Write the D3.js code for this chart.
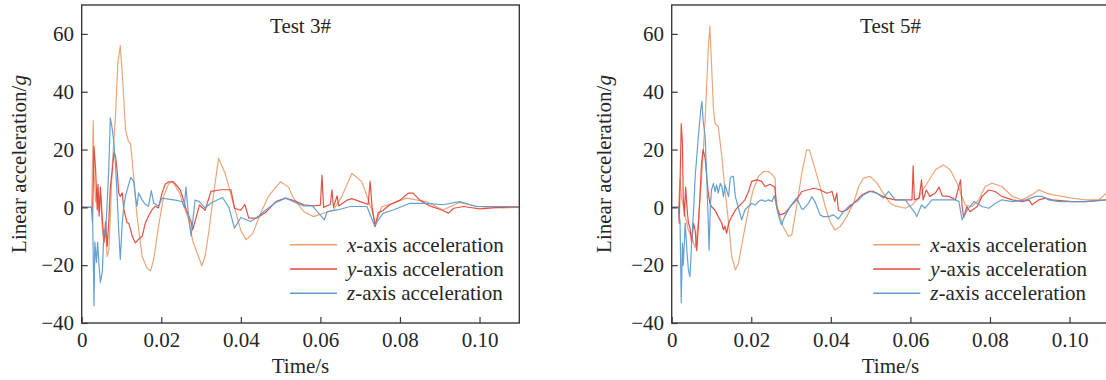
<!DOCTYPE html>
<html>
<head>
<meta charset="utf-8">
<script src="https://cdn.jsdelivr.net/npm/d3@7"></script>
<style>
  html, body { margin: 0; padding: 0; background: #fff; }
  svg { display: block; }
  text { font-family: "Liberation Serif", "Times New Roman", serif; fill: #262626; }
</style>
</head>
<body>
<svg id="chart" width="1106" height="380"></svg>
<script>
// ---- data: acceleration traces [time (s), acceleration (g)] ----
const test3X = [[0,0],[0.0025,0],[0.0029,30],[0.0031,12],[0.0035,2],[0.0039,7],[0.0043,-1.5],[0.0047,5],[0.0052,-8],[0.0056,-12],[0.006,-8],[0.0064,-17],[0.0068,-15],[0.0072,-3],[0.0077,15],[0.0085,32],[0.0091,50],[0.0097,56],[0.0103,44],[0.011,27],[0.0117,23],[0.0123,22],[0.0131,10],[0.0139,-3],[0.0152,-17],[0.0164,-21],[0.0173,-22],[0.0181,-18],[0.0193,-6.6],[0.0206,3.8],[0.0218,8],[0.0227,9],[0.0235,7.5],[0.0246,5],[0.026,-0.8],[0.0268,-4],[0.028,-12],[0.0302,-20.2],[0.031,-17],[0.032,-8],[0.033,3],[0.0344,17],[0.036,12],[0.038,2],[0.04,-8],[0.0413,-11.2],[0.043,-9],[0.045,-2],[0.047,4],[0.05,8.9],[0.052,7],[0.0533,3],[0.0558,-1.4],[0.0583,-3.2],[0.0633,-0.9],[0.0654,3.8],[0.0679,11.8],[0.0704,8.9],[0.0712,6],[0.0729,-0.9],[0.0738,-6],[0.0754,0.2],[0.0783,1.4],[0.0816,3.2],[0.0866,2],[0.0908,-0.9],[0.095,1.7],[0.0992,0.3],[0.1058,-0.2],[0.11,0]];
const test3Y = [[0,0],[0.0025,0],[0.0027,-5],[0.0031,21],[0.0035,13],[0.0039,-0.8],[0.0041,8],[0.0044,-3],[0.0047,7],[0.0052,-4],[0.0056,-12],[0.006,-5],[0.0064,-13.5],[0.0068,-5],[0.0072,7],[0.0077,13],[0.0081,18.9],[0.0085,17.7],[0.0089,13],[0.0093,5],[0.0097,3.8],[0.0102,5],[0.0106,-0.8],[0.011,-3],[0.0114,-5.4],[0.0118,-5.4],[0.0123,-7.7],[0.0127,-10],[0.0135,-12.3],[0.0143,-11],[0.0152,-10],[0.016,-5.4],[0.0168,-3],[0.0177,-0.8],[0.0185,0.4],[0.0193,-0.2],[0.0202,5],[0.021,8],[0.0218,8.8],[0.0231,8.8],[0.0239,7.5],[0.0248,6],[0.0256,2.5],[0.0263,-1],[0.0275,-5],[0.0279,-7.8],[0.0296,0.8],[0.031,-1],[0.0325,5.5],[0.035,6.1],[0.0375,6.1],[0.0384,-0.3],[0.04,-1],[0.041,1],[0.042,-3.7],[0.044,-3.7],[0.0462,-1.8],[0.0488,2],[0.0512,3.2],[0.0537,2.2],[0.0558,0.9],[0.0583,0.5],[0.06,0.8],[0.0604,11.2],[0.0608,0],[0.0625,1],[0.0629,6.1],[0.0633,0],[0.0642,4],[0.0646,0.5],[0.0667,2.5],[0.0679,3],[0.07,2],[0.072,1],[0.0725,9],[0.073,0],[0.0738,-6.6],[0.0745,-2],[0.0758,-1],[0.0775,1],[0.08,2.5],[0.0821,4.9],[0.0833,4.9],[0.085,2.5],[0.0875,0.5],[0.0905,-0.9],[0.0922,-2],[0.0935,-0.3],[0.096,0.3],[0.1,-0.5],[0.105,0],[0.11,0.2]];
const test3Z = [[0,0],[0.0027,0],[0.0031,-34],[0.0033,-12],[0.0037,-19],[0.004,-12],[0.0043,-19],[0.0047,-26],[0.0052,-22],[0.0056,-7.7],[0.006,-10],[0.0064,1.5],[0.0068,13],[0.0072,31],[0.0077,27],[0.0081,22],[0.0085,15],[0.0089,4],[0.0093,-7.7],[0.0097,-18],[0.0102,-5],[0.0106,0.4],[0.011,3.8],[0.0123,10.4],[0.0131,9],[0.0135,3.8],[0.0139,0.4],[0.0143,5],[0.0152,2.5],[0.016,1],[0.0168,0.4],[0.0175,5.8],[0.0181,1.5],[0.0193,0.4],[0.0202,3.2],[0.021,3],[0.0227,2.7],[0.0243,2.3],[0.0252,2],[0.0258,0],[0.0262,7],[0.0268,-2],[0.0275,-10],[0.0285,2.5],[0.0296,2],[0.031,-0.3],[0.0325,1.5],[0.0354,3.4],[0.037,0],[0.0384,-7.2],[0.04,-3.5],[0.0425,-4.9],[0.0445,-3],[0.0462,-1],[0.0488,1.7],[0.0512,3.2],[0.0533,2],[0.0558,0.5],[0.058,0.5],[0.061,-4.3],[0.0617,-1.5],[0.0642,-0.9],[0.0675,0.3],[0.0717,0.3],[0.0737,-6.6],[0.0742,-4.9],[0.0758,-2],[0.0783,-0.9],[0.0825,1.4],[0.0866,1.4],[0.0908,0.9],[0.095,2],[0.0992,0.3],[0.105,0.3],[0.11,0.3]];

const test5X = [[0,0],[0.0017,0],[0.0021,10],[0.0025,3],[0.003,0],[0.0034,-3],[0.0042,-8],[0.005,-10],[0.0059,-14],[0.0067,-5],[0.0075,10],[0.0084,30],[0.0092,55],[0.0096,62.6],[0.01,50],[0.0105,34],[0.0109,29],[0.0117,28],[0.0126,17.5],[0.0134,6],[0.0143,-5.5],[0.0151,-17],[0.016,-21.6],[0.0168,-19.3],[0.018,-10],[0.0193,-0.9],[0.0205,6.1],[0.0218,10.7],[0.0231,12.4],[0.0243,12.4],[0.0252,11.5],[0.026,10],[0.0262,2.6],[0.0268,-1.5],[0.028,-6.6],[0.0293,-10],[0.0302,-9.5],[0.0314,0.3],[0.0327,11.8],[0.0339,19.9],[0.0346,19.9],[0.0356,15.3],[0.0373,7.2],[0.0386,0.3],[0.0398,-4.9],[0.041,-7.8],[0.0424,-6.6],[0.044,-3.2],[0.0457,1.4],[0.047,7.2],[0.0482,10.1],[0.0499,10.7],[0.0516,8.4],[0.0532,4.9],[0.0549,1.4],[0.0562,0.5],[0.0587,-0.3],[0.0604,0.8],[0.062,3.2],[0.0637,7.2],[0.0663,13],[0.0683,14.7],[0.07,13],[0.0717,8.4],[0.0726,5],[0.0738,0.8],[0.0755,0.3],[0.0772,2.6],[0.0788,7.2],[0.0805,8.4],[0.083,7.2],[0.0856,3.8],[0.0881,2.6],[0.0906,4.4],[0.0923,6.1],[0.094,5],[0.0956,4.4],[0.0981,3.8],[0.1006,3.2],[0.104,2.6],[0.1074,2.6],[0.1093,5],[0.11,5]];
const test5Y = [[0,0],[0.0017,0],[0.0019,-5.5],[0.0024,29],[0.0027,22],[0.0029,3.7],[0.0032,-3],[0.0035,7],[0.0039,-1],[0.0042,-5.5],[0.0046,-7],[0.005,-12.4],[0.0055,-5.5],[0.0059,-8],[0.0063,-15],[0.0067,-6.5],[0.0071,3.7],[0.0075,15.3],[0.0079,20],[0.0084,17],[0.0088,10.7],[0.0092,5],[0.0096,1.4],[0.01,0.3],[0.0109,-1],[0.0117,-3.2],[0.0126,-5.5],[0.013,-7.8],[0.0134,-6.5],[0.0138,-9],[0.0143,-5.5],[0.0151,-3.2],[0.016,-0.9],[0.0168,0.3],[0.0176,1.4],[0.0184,2.6],[0.0193,5.4],[0.0201,9],[0.0214,9.5],[0.0226,9],[0.0235,7.2],[0.0247,8],[0.0259,7],[0.0264,0],[0.0272,-2.6],[0.0285,-2],[0.0298,0.3],[0.0314,2.6],[0.0327,5.5],[0.0344,6.1],[0.0356,6.6],[0.0373,6.1],[0.039,4.9],[0.0403,5.5],[0.041,2],[0.0415,4.9],[0.0419,-1],[0.0427,-1.5],[0.044,-0.9],[0.0453,0.8],[0.0466,2.6],[0.0478,4.3],[0.0495,5.5],[0.0507,5.5],[0.0524,4.3],[0.0541,3.2],[0.0562,2.6],[0.0587,2.6],[0.0604,2.6],[0.0607,14.4],[0.061,2.6],[0.0622,3.2],[0.0628,9.5],[0.0632,2.6],[0.064,6],[0.0649,3.8],[0.0663,5],[0.0672,7],[0.068,4],[0.0697,3.8],[0.0713,2.6],[0.0726,9.5],[0.073,0.3],[0.0734,-3.5],[0.0742,0.3],[0.075,-1.5],[0.0768,0.3],[0.078,3.8],[0.0797,6],[0.0813,5.5],[0.083,3.8],[0.0856,2.6],[0.0881,2],[0.0898,2.6],[0.0906,0.9],[0.0923,2.6],[0.094,3.2],[0.0956,2.6],[0.1006,2],[0.104,2],[0.1093,2.6],[0.11,2.6]];
const test5Z = [[0,0],[0.0017,0],[0.0021,-5],[0.0024,-33],[0.0027,-12.4],[0.0029,-20],[0.0034,-5.5],[0.0038,-14.8],[0.0042,-21.6],[0.0046,-24],[0.005,-12.4],[0.0055,-1],[0.0059,10.7],[0.0067,24.5],[0.0073,33.8],[0.0076,36.6],[0.0079,30],[0.0084,24.5],[0.0088,10.7],[0.0092,-5.5],[0.0094,-14.8],[0.0097,0],[0.01,6],[0.0105,8.3],[0.0109,5.4],[0.0113,7.8],[0.0117,4.9],[0.0122,8.3],[0.0126,7.2],[0.013,3.7],[0.0134,7.8],[0.0138,6],[0.0143,3.7],[0.0147,10],[0.0151,10.7],[0.0155,10.7],[0.016,3.7],[0.0168,-0.3],[0.0176,-4.3],[0.0184,-0.9],[0.0193,0.3],[0.0201,1.4],[0.021,0.8],[0.0218,2],[0.0226,2.6],[0.0235,2],[0.0243,2.6],[0.0252,2],[0.0258,4],[0.0268,-2.6],[0.0276,-6],[0.0284,-3.2],[0.0298,0.3],[0.0314,3.2],[0.0327,-0.6],[0.0331,-0.6],[0.0344,1.4],[0.0352,3.7],[0.036,2],[0.0373,-2.6],[0.0381,-3.2],[0.0395,-3.2],[0.0407,-2.6],[0.0419,-4],[0.0432,-1.5],[0.0449,0.8],[0.0466,2],[0.0482,4.3],[0.0499,5.5],[0.0516,4.9],[0.0532,3.2],[0.0545,5.5],[0.0562,2.6],[0.0587,2.6],[0.0612,-2],[0.0616,-3.2],[0.0628,0.8],[0.0637,-0.3],[0.0654,2.6],[0.0688,2.6],[0.0713,2.6],[0.0722,2],[0.073,-4.3],[0.0743,-0.9],[0.076,2],[0.078,0.3],[0.0797,-0.3],[0.0814,1.4],[0.083,2.6],[0.0856,2],[0.089,2.6],[0.0915,3.8],[0.0931,3.8],[0.0948,2.6],[0.0973,2],[0.1006,2],[0.104,2],[0.1093,2.6],[0.11,2.6]];

const panelTitles = ["Test 3#", "Test 5#"];
const seriesNames = ["x", "y", "z"];
const xTicks = [0, 0.02, 0.04, 0.06, 0.08, 0.10];
const yTicks = [-40, -20, 0, 20, 40, 60];
const xDomain = [0, 0.11];
const yDomain = [-40, 70];
const yLabel = "Linear acceleration/";
const xLabel = "Time/s";

// ---- styling ----
const colors = { x: "#e9a171", y: "#e2473b", z: "#5e9bcd" };
const FONT = 21;

// ---- layout ----
const panels = [
  { left: 81.7, legendX: 290, ylabX: 19, title: panelTitles[0], series: { x: test3X, y: test3Y, z: test3Z } },
  { left: 671.7, legendX: 873.3, ylabX: 604, title: panelTitles[1], series: { x: test5X, y: test5Y, z: test5Z } }
];
const plotW = 437.6, plotTop = 5, plotBottom = 323;

const svg = d3.select("#chart");
const fmtX = d => d === 0 ? "0" : d3.format(".2f")(d);
const fmtY = d3.format("d");

panels.forEach((p, i) => {
  const x = d3.scaleLinear().domain(xDomain).range([p.left, p.left + plotW]);
  const y = d3.scaleLinear().domain(yDomain).range([plotBottom, plotTop]);
  const g = svg.append("g");

  const clipId = "clip" + i;
  svg.append("defs").append("clipPath").attr("id", clipId)
    .append("rect").attr("x", p.left).attr("y", plotTop).attr("width", plotW).attr("height", plotBottom - plotTop);

  // traces
  const line = d3.line().x(d => x(d[0])).y(d => y(d[1]));
  const lines = g.append("g").attr("clip-path", `url(#${clipId})`);
  seriesNames.forEach(k => {
    lines.append("path").datum(p.series[k])
      .attr("d", line).attr("fill", "none")
      .attr("stroke", colors[k]).attr("stroke-width", 1.2)
      .attr("stroke-linejoin", "round").attr("stroke-opacity", 0.95);
  });

  // frame
  g.append("rect").attr("x", p.left).attr("y", plotTop).attr("width", plotW).attr("height", plotBottom - plotTop)
    .attr("fill", "none").attr("stroke", "#3a3a3a").attr("stroke-width", 1.4);

  // axes with inward ticks
  const xAxis = d3.axisBottom(x).tickValues(xTicks).tickFormat(fmtX).tickSize(-6).tickPadding(0);
  const gx = g.append("g").attr("transform", `translate(0,${plotBottom})`).call(xAxis);
  gx.select(".domain").remove();
  gx.selectAll(".tick line").attr("stroke", "#3a3a3a").attr("stroke-width", 1.2);
  gx.selectAll(".tick text").attr("font-size", FONT).attr("font-family", "Liberation Serif")
    .attr("fill", "#262626").attr("y", 24).attr("dy", 0);

  const yAxis = d3.axisLeft(y).tickValues(yTicks).tickFormat(fmtY).tickSize(-6).tickPadding(7.7);
  const gy = g.append("g").attr("transform", `translate(${p.left},0)`).call(yAxis);
  gy.select(".domain").remove();
  gy.selectAll(".tick line").attr("stroke", "#3a3a3a").attr("stroke-width", 1.2);
  gy.selectAll(".tick text").attr("font-size", FONT).attr("font-family", "Liberation Serif")
    .attr("fill", "#262626");

  // title
  g.append("text").attr("x", p.left + plotW / 2).attr("y", 33.3)
    .attr("text-anchor", "middle").attr("font-size", FONT).text(p.title);

  // axis labels
  g.append("text").attr("x", p.left + plotW / 2).attr("y", 373)
    .attr("text-anchor", "middle").attr("font-size", FONT).text(xLabel);
  const yl = g.append("text").attr("transform", `translate(${p.ylabX},${(plotTop + plotBottom) / 2}) rotate(-90)`)
    .attr("text-anchor", "middle").attr("dy", "0.35em").attr("font-size", FONT);
  yl.append("tspan").text(yLabel);
  yl.append("tspan").attr("font-style", "italic").text("g");

  // legend
  seriesNames.forEach((k, j) => {
    const ly = 244.7 + j * 24.3;
    g.append("line").attr("x1", p.legendX).attr("x2", p.legendX + 47)
      .attr("y1", ly).attr("y2", ly).attr("stroke", colors[k]).attr("stroke-width", 1.6);
    const t = g.append("text").attr("x", p.legendX + 57).attr("y", ly).attr("dy", "0.33em")
      .attr("font-size", FONT);
    t.append("tspan").attr("font-style", "italic").text(k);
    t.append("tspan").text("-axis acceleration");
  });
});
</script>
</body>
</html>
